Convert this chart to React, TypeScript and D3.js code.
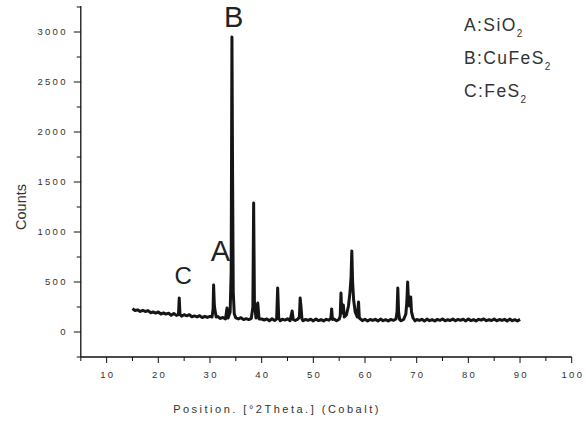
import React from "react";
import * as d3 from "d3";

// XRD scan, [°2Theta, counts]
const scan: [number, number][] = [
  [15.0, 234], [15.5, 215], [16.0, 221], [16.5, 205], [17.0, 217], [17.5, 205],
  [18.0, 214], [18.5, 193], [19.0, 200], [19.5, 189], [20.0, 200], [20.5, 180],
  [21.0, 191], [21.5, 179], [22.0, 188], [22.5, 168], [23.0, 185], [23.5, 166],
  [23.9, 174], [24.05, 340], [24.2, 175], [24.5, 159], [25.0, 173], [25.5, 162],
  [26.0, 173], [26.5, 153], [27.0, 161], [27.5, 151], [28.0, 163], [28.5, 144],
  [29.0, 157], [29.5, 146], [30.0, 156], [30.4, 150], [30.6, 230], [30.7, 470],
  [30.85, 260], [31.0, 210], [31.2, 150], [31.5, 154], [32.0, 136], [32.5, 145],
  [33.0, 130], [33.3, 240], [33.5, 139], [33.9, 200], [34.1, 600], [34.25, 2950],
  [34.35, 1800], [34.5, 400], [34.7, 180], [35.0, 141], [35.5, 131], [36.0, 143],
  [36.5, 124], [37.0, 133], [37.5, 124], [38.0, 137], [38.3, 250], [38.45, 1290],
  [38.6, 300], [38.9, 140], [39.25, 290], [39.5, 130], [40.0, 130], [40.5, 120],
  [41.0, 131], [41.5, 113], [42.0, 132], [42.5, 115], [42.9, 130], [43.1, 440],
  [43.3, 140], [43.6, 112], [44.0, 128], [44.5, 119], [45.0, 132], [45.5, 113],
  [45.9, 210], [46.1, 125], [46.5, 115], [47.0, 129], [47.3, 150], [47.45, 340],
  [47.6, 260], [47.8, 130], [48.0, 112], [48.5, 126], [49.0, 117], [49.5, 128],
  [50.0, 111], [50.5, 130], [51.0, 114], [51.5, 124], [52.0, 111], [52.5, 127],
  [53.0, 118], [53.4, 140], [53.55, 230], [53.7, 125], [54.0, 131], [54.5, 113],
  [55.0, 127], [55.2, 160], [55.35, 390], [55.5, 190], [55.8, 270], [56.0, 150],
  [56.4, 170], [56.8, 260], [57.1, 400], [57.3, 550], [57.45, 810], [57.6, 500],
  [57.8, 320], [58.1, 200], [58.5, 150], [58.75, 300], [58.9, 140], [59.5, 114],
  [60.0, 128], [60.5, 111], [61.0, 125], [61.5, 116], [62.0, 127], [62.5, 110],
  [63.0, 129], [63.5, 113], [64.0, 123], [64.5, 110], [65.0, 126], [65.5, 117],
  [66.0, 130], [66.2, 200], [66.35, 440], [66.5, 200], [66.7, 125], [67.0, 112],
  [67.5, 127], [67.9, 180], [68.1, 300], [68.25, 500], [68.4, 330], [68.6, 260],
  [68.85, 350], [69.0, 200], [69.3, 140], [69.7, 111], [70.0, 125], [70.5, 116],
  [71.0, 127], [71.5, 110], [72.0, 129], [72.5, 113], [73.0, 123], [73.5, 110],
  [74.0, 126], [74.5, 117], [75.0, 130], [75.5, 112], [76.0, 123], [76.5, 115],
  [77.0, 129], [77.5, 112], [78.0, 126], [78.5, 117], [79.0, 128], [79.5, 111],
  [80.0, 130], [80.5, 114], [81.0, 124], [81.5, 111], [82.0, 127], [82.5, 118],
  [83.0, 131], [83.5, 113], [84.0, 123], [84.5, 115], [85.0, 129], [85.5, 112],
  [86.0, 125], [86.5, 116], [87.0, 127], [87.5, 110], [88.0, 129], [88.5, 113],
  [89.0, 123], [89.5, 110], [90.0, 126],
];

const xTicks = [10, 20, 30, 40, 50, 60, 70, 80, 90, 100];
const xMinor = [5, 15, 25, 35, 45, 55, 65, 75, 85, 95];
const yTicks = [0, 500, 1000, 1500, 2000, 2500, 3000];
const yMinor = [-250, 250, 750, 1250, 1750, 2250, 2750, 3250];

// peak markers: letter, theta, counts where the letter's baseline sits
const peakLabels = [
  { text: "B", x: 34.6, y: 3050, size: 29 },
  { text: "A", x: 32.0, y: 710, size: 29 },
  { text: "C", x: 24.8, y: 480, size: 24 },
];

const legend = [
  { main: "A:SiO", sub: "2" },
  { main: "B:CuFeS", sub: "2" },
  { main: "C:FeS", sub: "2" },
];

const W = 586, H = 421;
const left = 80.8, right = 571.7, top = 6, bottom = 357;

export default function App() {
  const x = d3.scaleLinear().domain([5, 100]).range([left, right]);
  const y = d3.scaleLinear().domain([-250, 3260]).range([bottom, top]);

  const line = d3
    .line<[number, number]>()
    .x((d) => x(d[0]))
    .y((d) => y(d[1]));

  const tickFont = {
    fontFamily: "'Liberation Sans', Arial, sans-serif",
    fontSize: 9.5,
    letterSpacing: 2.3,
    fill: "#333",
  };

  return (
    <svg
      width={W}
      height={H}
      style={{ position: "absolute", left: 0, top: 0, background: "#fff" }}
    >
      {/* axes */}
      <line x1={left} x2={left} y1={top} y2={bottom} stroke="#111" strokeWidth={1.3} />
      <line x1={left} x2={right} y1={bottom} y2={bottom} stroke="#111" strokeWidth={1.3} />

      {yTicks.map((t) => (
        <g key={"y" + t}>
          <line x1={left - 7} x2={left} y1={y(t)} y2={y(t)} stroke="#111" />
          <text x={left - 13} y={y(t) + 3.4} textAnchor="end" {...tickFont}>
            {t}
          </text>
        </g>
      ))}
      {yMinor.map((t) => (
        <line key={"ym" + t} x1={left - 4} x2={left} y1={y(t)} y2={y(t)} stroke="#111" />
      ))}

      {xTicks.map((t) => (
        <g key={"x" + t}>
          <line x1={x(t)} x2={x(t)} y1={bottom} y2={bottom + 6} stroke="#111" />
          <text x={x(t) + 1.2} y={bottom + 21} textAnchor="middle" {...tickFont}>
            {t}
          </text>
        </g>
      ))}
      {xMinor.map((t) => (
        <line key={"xm" + t} x1={x(t)} x2={x(t)} y1={bottom} y2={bottom + 4} stroke="#111" />
      ))}

      {/* axis titles */}
      <text
        x={277}
        y={413}
        textAnchor="middle"
        fontFamily="'Liberation Sans', Arial, sans-serif"
        fontSize={11}
        letterSpacing={2.5}
        fill="#333"
      >
        Position. [°2Theta.] (Cobalt)
      </text>
      <text
        transform="translate(26,207) rotate(-90)"
        textAnchor="middle"
        fontFamily="'Liberation Sans', Arial, sans-serif"
        fontSize={14.5}
        fill="#333"
      >
        Counts
      </text>

      {/* scan */}
      <path
        d={line(scan) ?? ""}
        fill="none"
        stroke="#151515"
        strokeWidth={3}
        strokeLinejoin="round"
      />

      {peakLabels.map((p) => (
        <text
          key={p.text}
          x={x(p.x)}
          y={y(p.y)}
          textAnchor="middle"
          fontFamily="'Liberation Sans', Arial, sans-serif"
          fontSize={p.size}
          fill="#222"
        >
          {p.text}
        </text>
      ))}

      {/* legend */}
      {legend.map((l, i) => (
        <text
          key={l.main}
          x={464}
          y={31 + i * 33}
          fontFamily="'Liberation Sans', Arial, sans-serif"
          fontSize={17.5}
          letterSpacing={1.4}
          fill="#333"
        >
          {l.main}
          <tspan fontSize={10} dy={6}>
            {l.sub}
          </tspan>
        </text>
      ))}
    </svg>
  );
}
